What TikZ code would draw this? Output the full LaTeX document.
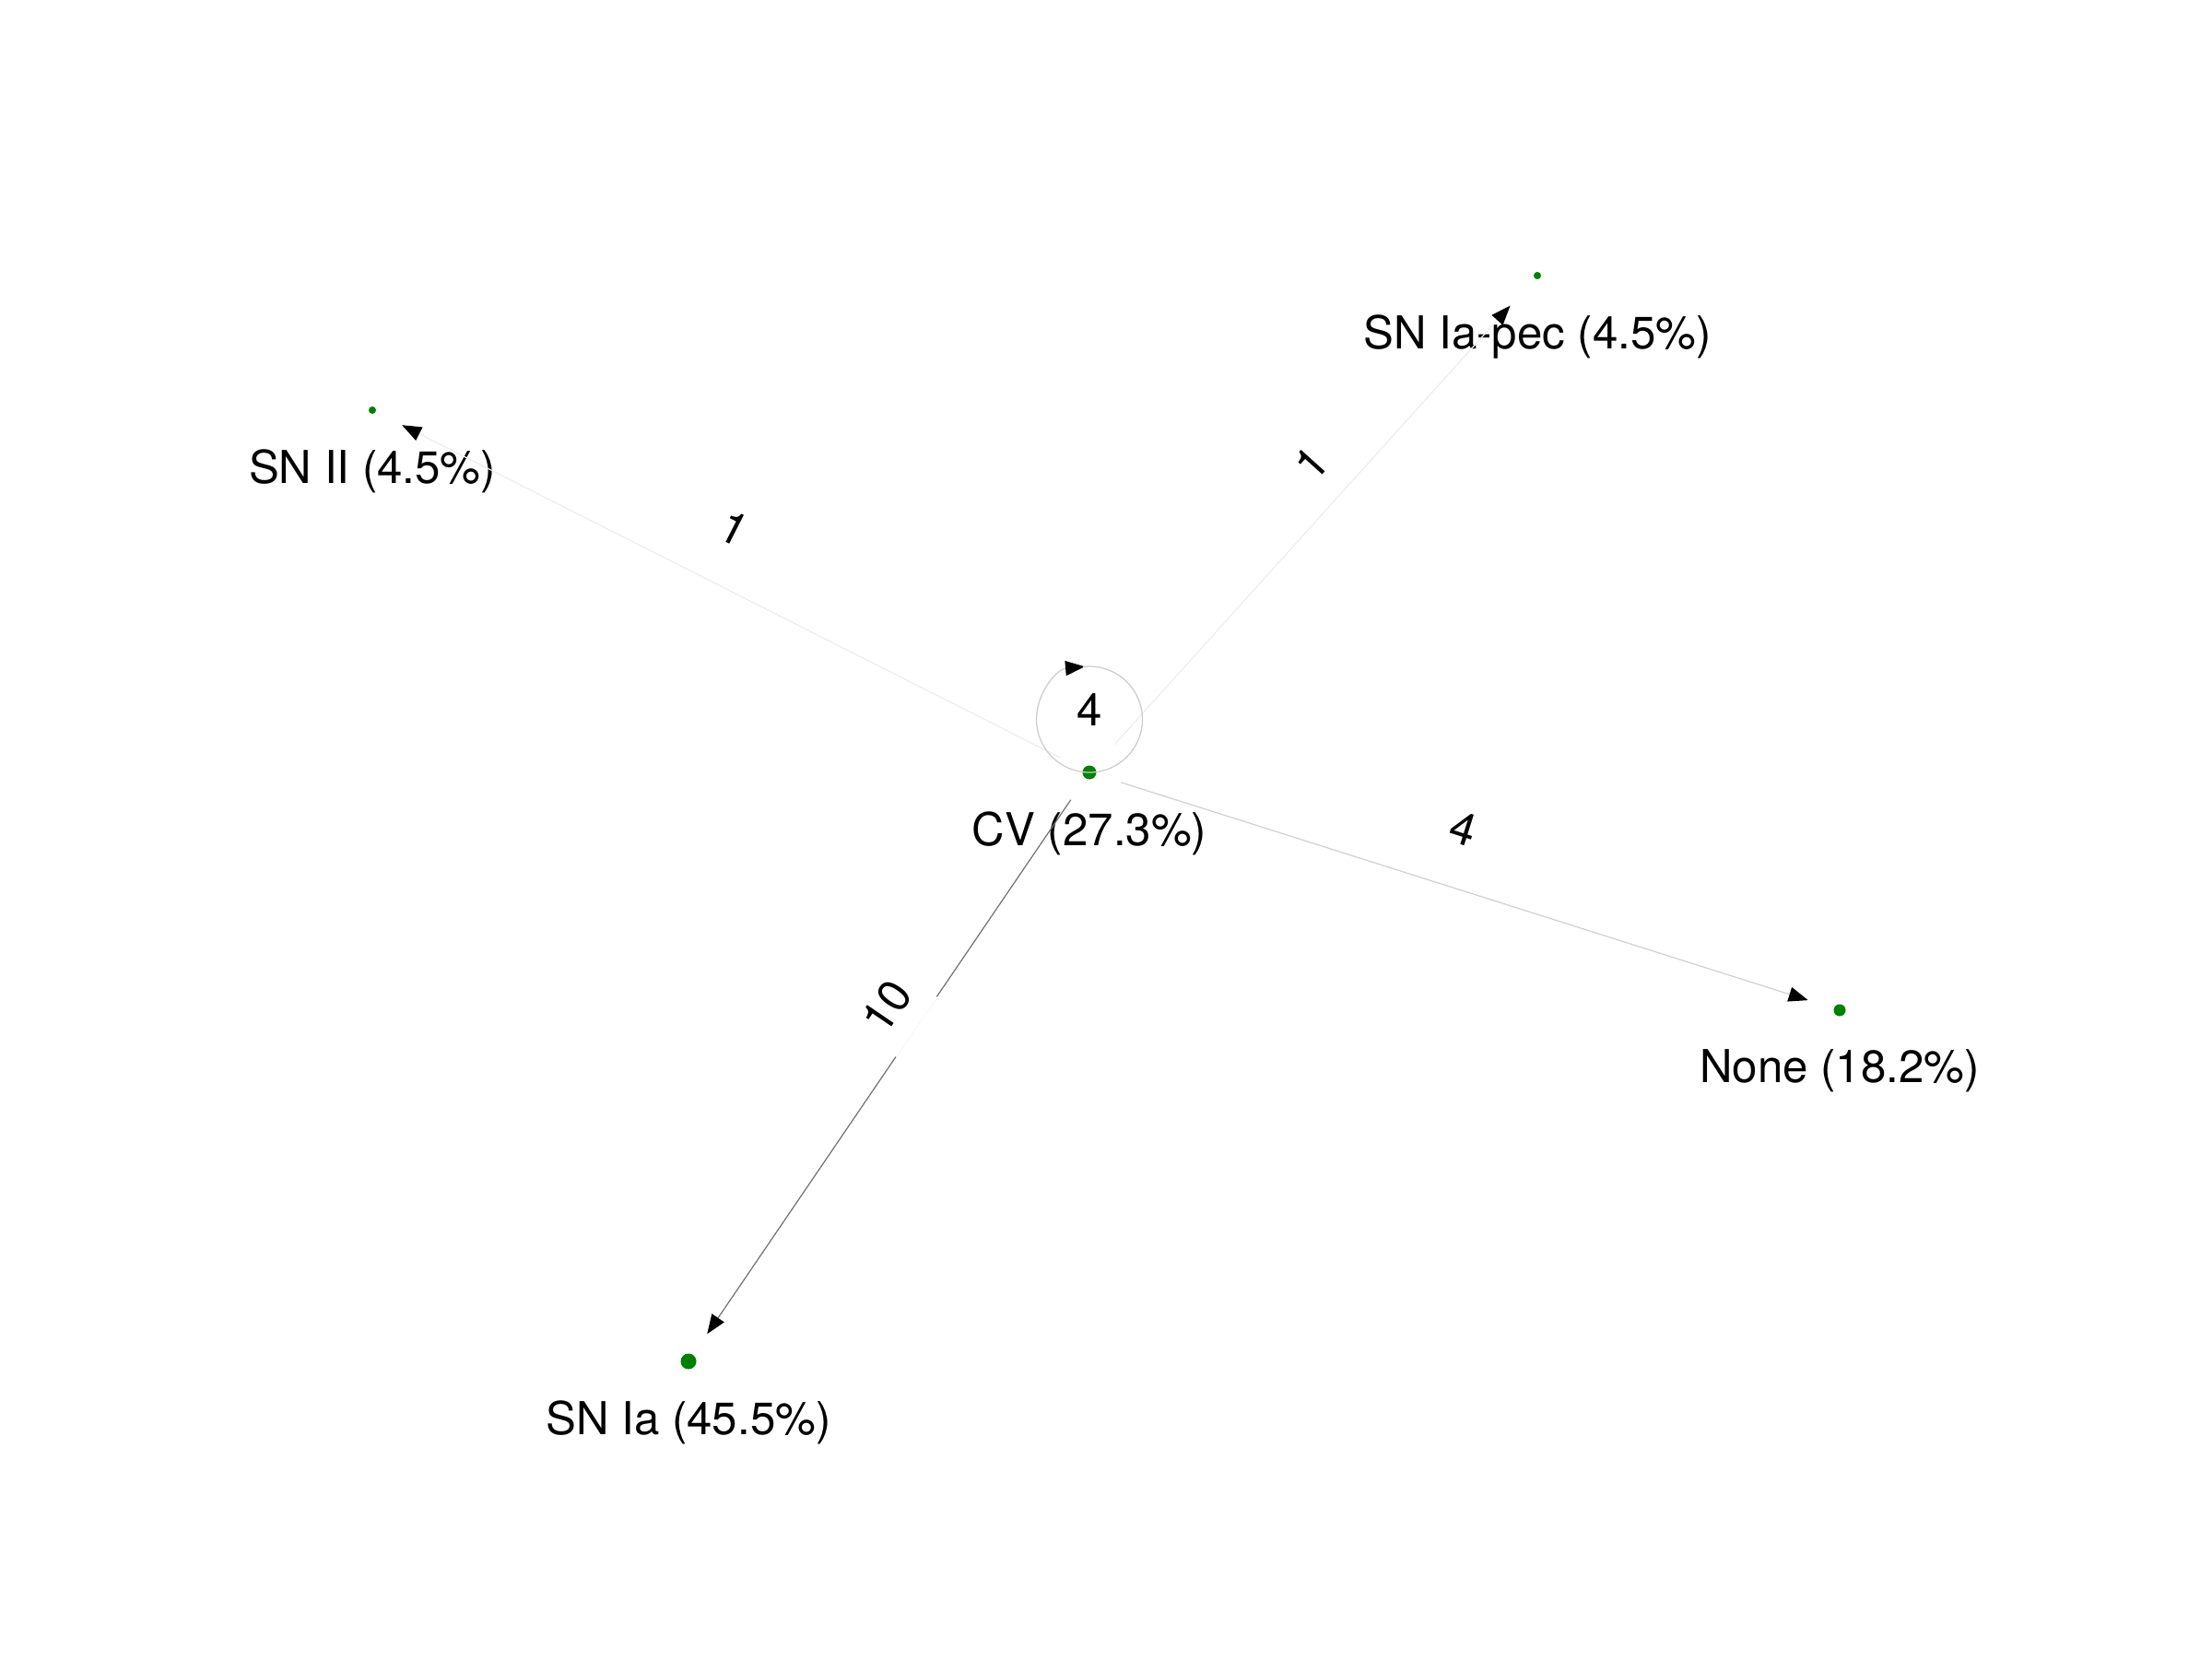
\documentclass[tikz,border=0pt]{standalone}
\usepackage{fontspec}
\setmainfont{TeX Gyre Heros}
\usetikzlibrary{positioning, arrows.meta, calc}

\begin{document}
\begin{tikzpicture}[
    >={Triangle[length=0.21cm, width=0.16cm, color=black]},   % 黒い三角の矢じり
    font=\fontsize{14}{17}\selectfont,                        % 全体のフォントサイズ
    dot/.style={circle, fill=green!50!black, inner sep=0pt},
    lbl/.style={inner sep=0pt},
    edgelbl/.style={inner sep=0pt},
    edge/.style={->, line width=0.35pt, shorten <=0.36cm, shorten >=0.36cm}
]
    \useasboundingbox (0,0) rectangle (24,18);

    % --- 1. ノード（緑の点） ---
    \node [dot, minimum size=0.15cm] (cv) at (11.82, 9.62) {};
    \node [dot, minimum size=0.17cm] (snia) at (7.47, 3.23) {};
    \node [dot, minimum size=0.13cm] (none) at (19.96, 7.04) {};
    \node [dot, minimum size=0.08cm] (snii) at (4.04, 13.55) {};
    \node [dot, minimum size=0.08cm] (siapec) at (16.68, 15.01) {};

    % --- 2. ノードのラベル ---
    \node [lbl, below=0.42cm of cv.center] (cv_lbl) {CV (27.3\%)};
    \node [lbl, below=0.42cm of snia.center] (snia_lbl) {SN Ia (45.5\%)};
    \node [lbl, below=0.42cm of none.center] (none_lbl) {None (18.2\%)};
    \node [lbl, below=0.42cm of snii.center] (snii_lbl) {SN II (4.5\%)};
    \node [lbl, below=0.42cm of siapec.center] (siapec_lbl) {SN Ia-pec (4.5\%)};

    % --- 3. 辺（重みで濃さを変える） ---
    \draw [edge, draw=black!55] (cv.center) -- (snia.center);
    \draw [edge, draw=black!18] (cv.center) -- (none.center);
    \draw [edge, draw=black!7] (cv.center) -- (snii.center);
    \draw [edge, draw=black!7, shorten <=0.41cm, shorten >=0.44cm] (cv.center) -- (siapec.center);

    % 自己ループ（CV -> CV）
    \draw [->, line width=0.35pt, draw=black!20] (cv.center) arc [start angle=-90, end angle=-265, radius=0.575];
    \draw [line width=0.35pt, draw=black!20] (cv.center) arc [start angle=-90, end angle=97, radius=0.575];

    % --- 4. 辺の重み ---
    \node [edgelbl, fill=white, inner xsep=0.12cm, inner ysep=0.22cm, rotate=55.7] (w_snia) at (9.62, 7.08) {10};
    \node [edgelbl, rotate=-17.5] (w_none) at (15.88, 9.01) {4};
    \node [edgelbl, rotate=-27] (w_snii) at (7.97, 12.27) {1};
    \node [edgelbl, rotate=48] (w_siapec) at (14.23, 12.97) {1};
    \node [edgelbl] (w_cv) at (11.82, 10.30) {4};

\end{tikzpicture}
\end{document}
